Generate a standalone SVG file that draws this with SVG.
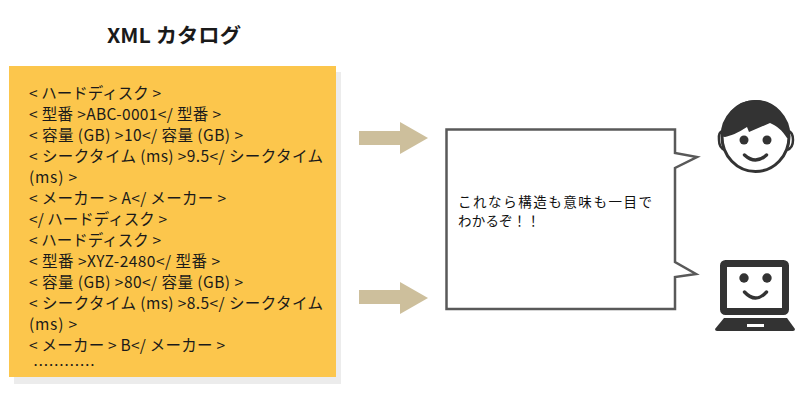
<svg xmlns="http://www.w3.org/2000/svg" width="800" height="401" viewBox="0 0 800 401">
<style>
text{font-family:"Noto Sans CJK JP","Noto Sans",sans-serif;fill:#1a1a1a}
.x{font-size:15.500px}
.b{font-size:13.500px;fill:#111}
.d{fill:#333}
.s{fill:none;stroke:#333;stroke-width:3.400;stroke-linecap:round}
.a{fill:#cdbf9c}
</style>
<rect width="800" height="401" fill="#fff"/>
<g id="catalog">
<text x="107" y="43" font-size="20.500" font-weight="700" textLength="134" lengthAdjust="spacingAndGlyphs">XML カタログ</text>
<rect x="14" y="72" width="327" height="312" fill="#ececec"/>
<rect x="9" y="66" width="327" height="311" fill="#fcc64c"/>
<text class="x" x="29" y="99" textLength="132">&lt; ハードディスク &gt;</text>
<text class="x" x="29" y="120" textLength="192">&lt; 型番 &gt;ABC-0001&lt;/ 型番 &gt;</text>
<text class="x" x="29" y="141" textLength="214">&lt; 容量 (GB) &gt;10&lt;/ 容量 (GB) &gt;</text>
<text class="x" x="29" y="162" textLength="294">&lt; シークタイム (ms) &gt;9.5&lt;/ シークタイム</text>
<text class="x" x="29" y="183" textLength="48">(ms) &gt;</text>
<text class="x" x="29" y="204" textLength="197">&lt; メーカー &gt; A&lt;/ メーカー &gt;</text>
<text class="x" x="29" y="225" textLength="138">&lt;/ ハードディスク &gt;</text>
<text class="x" x="29" y="246" textLength="132">&lt; ハードディスク &gt;</text>
<text class="x" x="29" y="267" textLength="191">&lt; 型番 &gt;XYZ-2480&lt;/ 型番 &gt;</text>
<text class="x" x="29" y="288" textLength="214">&lt; 容量 (GB) &gt;80&lt;/ 容量 (GB) &gt;</text>
<text class="x" x="29" y="309" textLength="294">&lt; シークタイム (ms) &gt;8.5&lt;/ シークタイム</text>
<text class="x" x="29" y="330" textLength="48">(ms) &gt;</text>
<text class="x" x="29" y="351" textLength="196">&lt; メーカー &gt; B&lt;/ メーカー &gt;</text>
<text class="x" x="33" y="371" textLength="62">…………</text>
</g>
<g id="connectors">
<polygon class="a" points="359,131 400,131 400,122 428,138 400,154 400,145 359,145"/>
<polygon class="a" points="359,290 400,290 400,282 428,298 400,314 400,304 359,304"/>
</g>
<g id="bubble">
<path d="M446.500 129.500H675V153L697 157L675 168V262L696 274L675 277V309H446.500Z" fill="#fff" stroke="#595959" stroke-width="2.500"/>
<text class="b" x="458" y="207" textLength="194">これなら構造も意味も一目で</text>
<text class="b" x="458" y="226" textLength="82">わかるぞ！！</text>
</g>
<g id="person">
<path d="M723 131Q718 132 719 140Q719 148 725 150" fill="#fff" stroke="#333" stroke-width="2.500"/>
<path d="M788 131Q793 132 793 140Q793 148 787 150" fill="#fff" stroke="#333" stroke-width="2.500"/>
<ellipse cx="755.500" cy="136.500" rx="33.500" ry="35" fill="#fff" stroke="#333" stroke-width="3"/>
<path class="d" d="M722 136.500C722 116 737 100 755.500 100C774 100 789 116 789 138L787 138C782 130 777 126 770 123L749 132L747 127C738 133 730 136 725 137Z"/>
<circle cx="744" cy="140" r="4.500" class="d"/>
<circle cx="767" cy="140" r="4.500" class="d"/>
<path class="s" d="M744.500 155Q755.500 165 766.500 155"/>
</g>
<g id="computer">
<rect x="723.500" y="263.500" width="62" height="48" rx="2" fill="#fff" stroke="#333" stroke-width="7"/>
<path class="d" d="M724 318H787L795 329Q795 331 793 331H717Q715 331 715 329Z"/>
<rect x="747" y="324" width="17" height="3" fill="#fff"/>
<circle cx="744" cy="278" r="4.700" class="d"/>
<circle cx="767" cy="278" r="4.700" class="d"/>
<path class="s" d="M744.500 292Q755.500 304 766.500 292"/>
</g>
</svg>
